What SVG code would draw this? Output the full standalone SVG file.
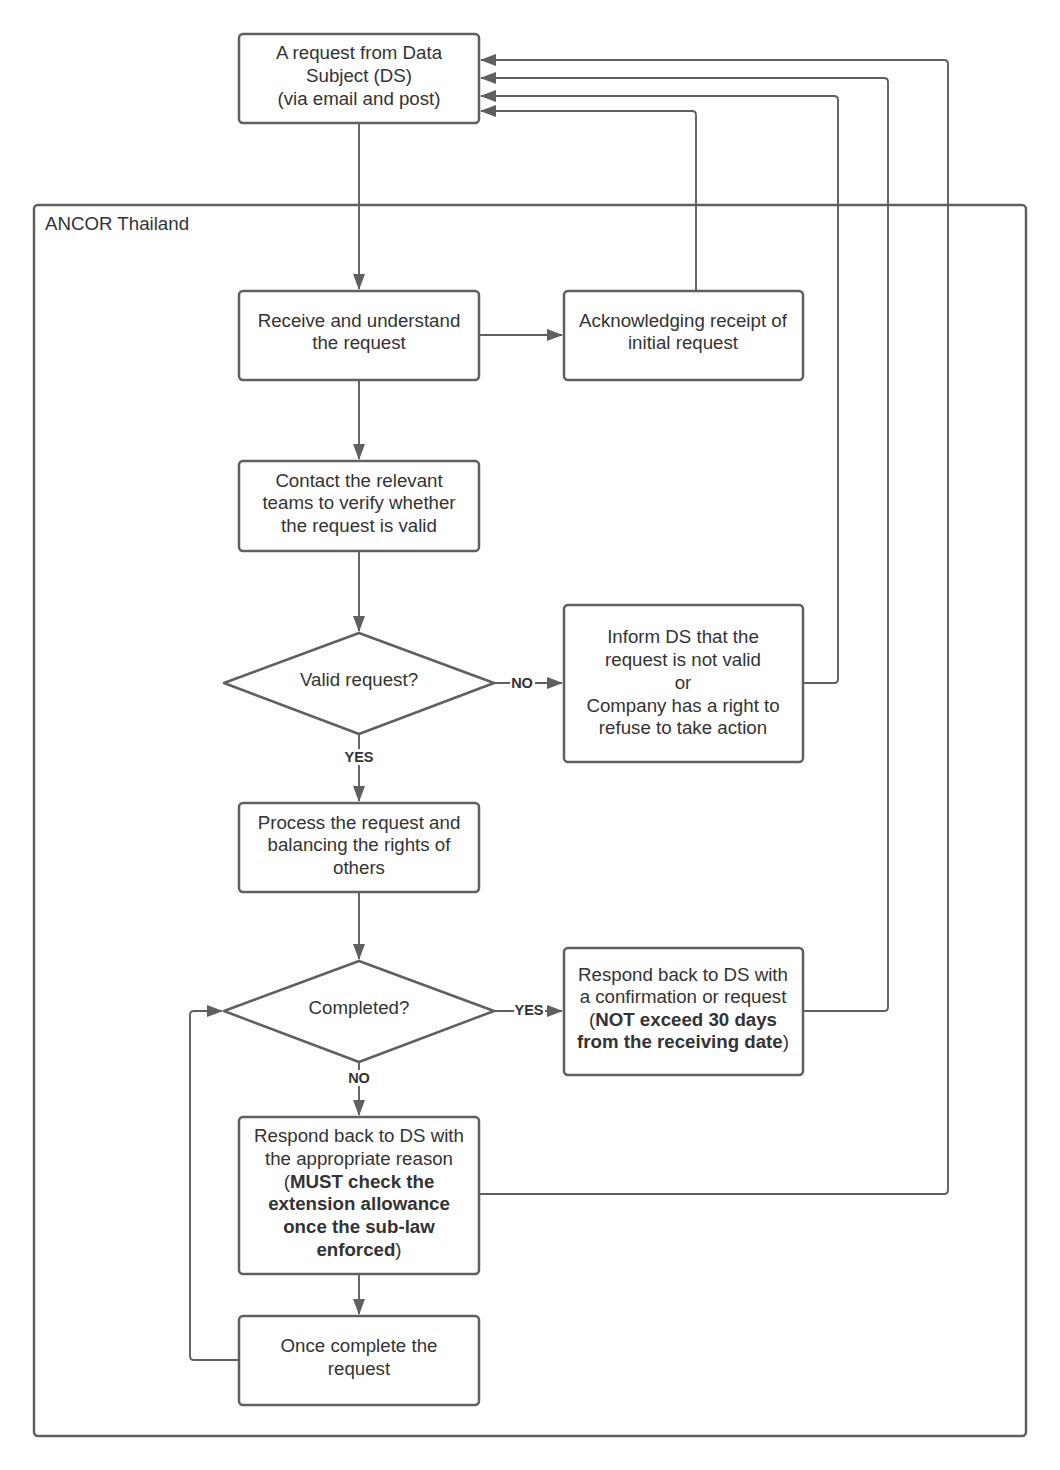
<svg xmlns="http://www.w3.org/2000/svg" width="1060" height="1470" viewBox="0 0 1060 1470">
<style>
.box{fill:#fff;stroke:#5f5f5f;stroke-width:2.5}
.cont{fill:none;stroke:#5f5f5f;stroke-width:2.5}
.t{font-family:"Liberation Sans",Arial,sans-serif;font-size:18.7px;fill:#333;text-anchor:middle}
.b{font-weight:bold}
.lbl{font-family:"Liberation Sans",Arial,sans-serif;font-size:14.5px;font-weight:bold;fill:#333;text-anchor:middle}
.c{fill:none;stroke:#5f5f5f;stroke-width:1.9}
.lb{fill:#fff}
</style>
<defs>
<marker id="ah" markerUnits="userSpaceOnUse" markerWidth="16" markerHeight="12" refX="15" refY="6" orient="auto">
<path d="M0,0 L16,6 L0,12 z" fill="#5f5f5f"/>
</marker>
</defs>
<rect width="1060" height="1470" fill="#fff"/>
<g id="container">
<rect class="cont" x="34" y="205" width="992" height="1231" rx="4"/>
<text class="t" x="45" y="229.5" style="text-anchor:start">ANCOR Thailand</text>
</g>
<g id="connectors">
<path class="c" d="M359,123 V289" marker-end="url(#ah)"/>
<path class="c" d="M479,335 H562" marker-end="url(#ah)"/>
<path class="c" d="M359,380 V459" marker-end="url(#ah)"/>
<path class="c" d="M359,551 V631" marker-end="url(#ah)"/>
<path class="c" d="M494,683 H562" marker-end="url(#ah)"/>
<path class="c" d="M359,734 V801" marker-end="url(#ah)"/>
<path class="c" d="M359,892 V959" marker-end="url(#ah)"/>
<path class="c" d="M494,1011 H562" marker-end="url(#ah)"/>
<path class="c" d="M359,1062 V1115" marker-end="url(#ah)"/>
<path class="c" d="M359,1274 V1314" marker-end="url(#ah)"/>
<path class="c" d="M239,1360 H194 Q190,1360 190,1356 V1015 Q190,1011 194,1011 H222" marker-end="url(#ah)"/>
<path class="c" d="M696,291 V115 Q696,111 692,111 H481" marker-end="url(#ah)"/>
<path class="c" d="M803,683 H834 Q838,683 838,679 V100 Q838,96 834,96 H481" marker-end="url(#ah)"/>
<path class="c" d="M803,1011 H884 Q888,1011 888,1007 V82 Q888,78 884,78 H481" marker-end="url(#ah)"/>
<path class="c" d="M479,1194 H944 Q948,1194 948,1190 V64 Q948,60 944,60 H481" marker-end="url(#ah)"/>
<rect class="lb" x="510" y="675" width="25" height="16"/>
<text class="lbl" x="522" y="688">NO</text>
<rect class="lb" x="344" y="749" width="31" height="16"/>
<text class="lbl" x="359" y="762">YES</text>
<rect class="lb" x="514" y="1003" width="31" height="16"/>
<text class="lbl" x="529" y="1015">YES</text>
<rect class="lb" x="347" y="1070" width="25" height="16"/>
<text class="lbl" x="359" y="1083">NO</text>
</g>
<g id="n_request">
<rect class="box" x="239" y="34" width="240" height="89" rx="4"/>
<text class="t" x="359" y="59">A request from Data</text>
<text class="t" x="359" y="82">Subject (DS)</text>
<text class="t" x="359" y="105">(via email and post)</text>
</g>
<g id="n_receive">
<rect class="box" x="239" y="291" width="240" height="89" rx="4"/>
<text class="t" x="359" y="327">Receive and understand</text>
<text class="t" x="359" y="349">the request</text>
</g>
<g id="n_ack">
<rect class="box" x="564" y="291" width="239" height="89" rx="4"/>
<text class="t" x="683" y="327">Acknowledging receipt of</text>
<text class="t" x="683" y="349">initial request</text>
</g>
<g id="n_contact">
<rect class="box" x="239" y="461" width="240" height="90" rx="4"/>
<text class="t" x="359" y="487">Contact the relevant</text>
<text class="t" x="359" y="509">teams to verify whether</text>
<text class="t" x="359" y="532">the request is valid</text>
</g>
<g id="n_valid">
<polygon class="box" points="359,633 494,683 359,734 224,683" stroke-linejoin="round"/>
<text class="t" x="359" y="686">Valid request?</text>
</g>
<g id="n_inform">
<rect class="box" x="564" y="605" width="239" height="157" rx="4"/>
<text class="t" x="683" y="643">Inform DS that the</text>
<text class="t" x="683" y="666">request is not valid</text>
<text class="t" x="683" y="689">or</text>
<text class="t" x="683" y="712">Company has a right to</text>
<text class="t" x="683" y="734">refuse to take action</text>
</g>
<g id="n_process">
<rect class="box" x="239" y="803" width="240" height="89" rx="4"/>
<text class="t" x="359" y="829">Process the request and</text>
<text class="t" x="359" y="851">balancing the rights of</text>
<text class="t" x="359" y="874">others</text>
</g>
<g id="n_completed">
<polygon class="box" points="359,961 494,1011 359,1062 224,1011" stroke-linejoin="round"/>
<text class="t" x="359" y="1014">Completed?</text>
</g>
<g id="n_respond_yes">
<rect class="box" x="564" y="948" width="239" height="127" rx="4"/>
<text class="t" x="683" y="981">Respond back to DS with</text>
<text class="t" x="683" y="1003">a confirmation or request</text>
<text class="t" x="683" y="1026">(<tspan class="b">NOT exceed 30 days</tspan></text>
<text class="t" x="683" y="1048"><tspan class="b">from the receiving date</tspan>)</text>
</g>
<g id="n_respond_no">
<rect class="box" x="239" y="1117" width="240" height="157" rx="4"/>
<text class="t" x="359" y="1142">Respond back to DS with</text>
<text class="t" x="359" y="1165">the appropriate reason</text>
<text class="t" x="359" y="1188">(<tspan class="b">MUST check the</tspan></text>
<text class="t b" x="359" y="1210">extension allowance</text>
<text class="t b" x="359" y="1233">once the sub-law</text>
<text class="t" x="359" y="1256"><tspan class="b">enforced</tspan>)</text>
</g>
<g id="n_once">
<rect class="box" x="239" y="1316" width="240" height="89" rx="4"/>
<text class="t" x="359" y="1352">Once complete the</text>
<text class="t" x="359" y="1375">request</text>
</g>
</svg>
